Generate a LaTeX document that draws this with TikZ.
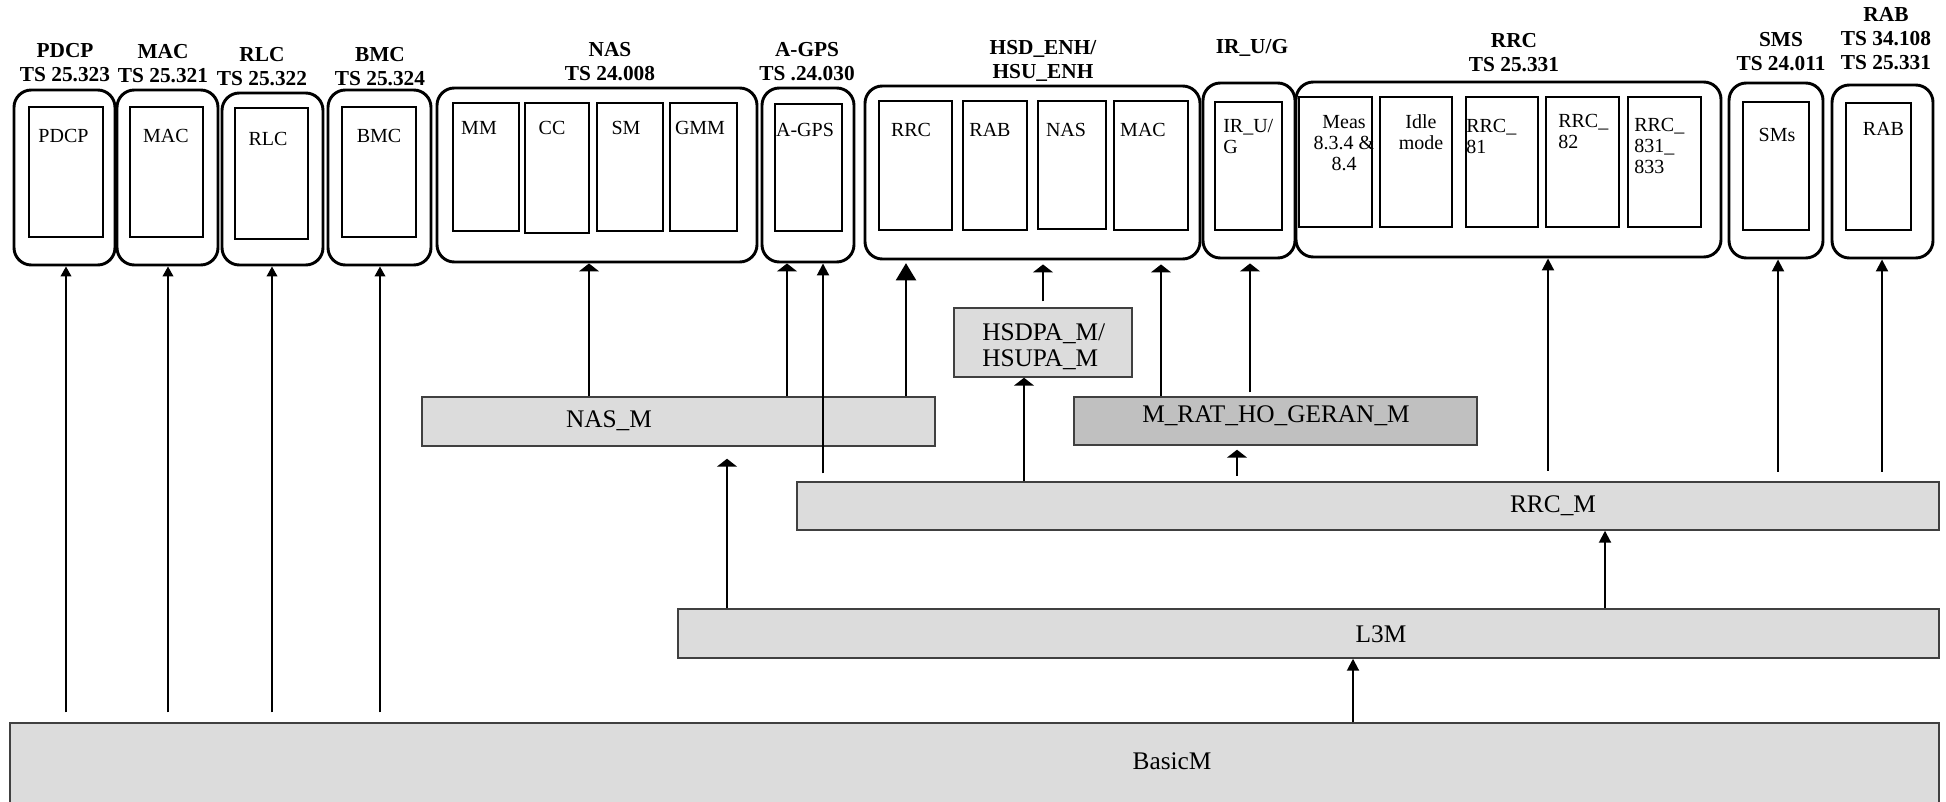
\documentclass[tikz,border=0pt]{standalone}
\usepackage{fontspec}
\setmainfont{Liberation Serif}
\usetikzlibrary{arrows.meta}
\definecolor{boxlight}{RGB}{220,220,220}
\definecolor{boxdark}{RGB}{192,192,192}
\definecolor{boxline}{RGB}{64,64,64}
\newcommand\mbx[6]{%
  \pgfmathsetmacro\bxcx{(#3+#5)/2}%
  \pgfmathsetmacro\bxcy{(#4+#6)/2}%
  \pgfmathsetmacro\bxw{(#5-#3)*0.75}%
  \pgfmathsetmacro\bxh{(#6-#4)*0.75}%
  \node[#1, minimum width=\bxw pt, minimum height=\bxh pt] (#2) at (\bxcx,\bxcy) {};}
\newcommand\mlines[2]{\begin{tabular}[t]{@{}#1@{}}#2\end{tabular}}
\begin{document}
\begin{tikzpicture}[x=0.75pt,y=-0.75pt,
  outerbox/.style={draw, line width=2.2pt, rounded corners=13pt, inner sep=0pt},
  innerbox/.style={draw, line width=1pt, inner sep=0pt},
  modbox/.style={draw=boxline, fill=boxlight, line width=1.1pt, inner sep=0pt},
  modboxdark/.style={modbox, fill=boxdark},
  ttl/.style={font=\bfseries\fontsize{16}{18}\selectfont, inner sep=0pt, anchor=base},
  itxt/.style={font=\fontsize{15}{15.75}\selectfont, inner sep=0pt, anchor=base},
  mtxt/.style={font=\fontsize{19}{20.25}\selectfont, inner sep=0pt, anchor=base},
  thinarr/.style={line width=1.3pt, -{Triangle[width=8pt,length=7.5pt]}},
  midarr/.style={line width=1.5pt, -{Triangle[width=9pt,length=9pt]}},
  thickarr/.style={line width=2.1pt, -{Triangle[width=15pt,length=6pt]}},
  bigarr/.style={line width=2.1pt, -{Triangle[width=15pt,length=13pt]}},
]
\useasboundingbox (0,0) rectangle (1946,802);
\clip (0,0) rectangle (1946,802);

% ---------- titles ----------
\node[ttl] (tPDCP) at (65,58) {\mlines{c}{PDCP\\TS 25.323}};
\node[ttl] (tMAC) at (163,59) {\mlines{c}{MAC\\TS 25.321}};
\node[ttl] (tRLC) at (262,62) {\mlines{c}{RLC\\TS 25.322}};
\node[ttl] (tBMC) at (380,62) {\mlines{c}{BMC\\TS 25.324}};
\node[ttl] (tNAS) at (610,57) {\mlines{c}{NAS\\TS 24.008}};
\node[ttl] (tAGPS) at (807,57) {\mlines{c}{A-GPS\\TS .24.030}};
\node[ttl] (tHSD) at (1043,55) {\mlines{c}{HSD\_ENH/\\HSU\_ENH}};
\node[ttl] (tIR) at (1252,54) {IR\_U/G};
\node[ttl] (tRRC) at (1514,48) {\mlines{c}{RRC\\TS 25.331}};
\node[ttl] (tSMS) at (1781,47) {\mlines{c}{SMS\\TS 24.011}};
\node[ttl] (tRAB) at (1886,22) {\mlines{c}{RAB\\TS 34.108\\TS 25.331}};

% ---------- outer rounded boxes ----------
\mbx{outerbox}{pdcpO}{14}{90}{115}{265}
\mbx{outerbox}{macO}{117}{90}{218}{265}
\mbx{outerbox}{rlcO}{222}{93}{323}{265}
\mbx{outerbox}{bmcO}{328}{90}{431}{265}
\mbx{outerbox}{nasO}{437}{88}{757}{262}
\mbx{outerbox}{agpsO}{762}{88}{854}{262}
\mbx{outerbox}{hsdO}{865}{86}{1200}{259}
\mbx{outerbox}{irO}{1203}{83}{1295}{258}
\mbx{outerbox}{rrcO}{1296}{82}{1721}{257}
\mbx{outerbox}{smsO}{1729}{83}{1823}{258}
\mbx{outerbox}{rabO}{1832}{85}{1933}{258}

% ---------- inner boxes ----------
\mbx{innerbox}{pdcpI}{29}{107}{103}{237}
\mbx{innerbox}{macI}{130}{107}{203}{237}
\mbx{innerbox}{rlcI}{235}{108}{308}{239}
\mbx{innerbox}{bmcI}{342}{107}{416}{237}
\mbx{innerbox}{mmI}{453}{103}{519}{231}
\mbx{innerbox}{ccI}{525}{103}{589}{233}
\mbx{innerbox}{smI}{597}{103}{663}{231}
\mbx{innerbox}{gmmI}{670}{103}{737}{231}
\mbx{innerbox}{agpsI}{775}{104}{842}{231}
\mbx{innerbox}{hrrcI}{879}{101}{952}{230}
\mbx{innerbox}{hrabI}{963}{101}{1027}{230}
\mbx{innerbox}{hnasI}{1038}{101}{1106}{229}
\mbx{innerbox}{hmacI}{1114}{101}{1188}{230}
\mbx{innerbox}{irI}{1215}{102}{1282}{230}
\mbx{innerbox}{measI}{1299}{97}{1372}{227}
\mbx{innerbox}{idleI}{1380}{97}{1452}{227}
\mbx{innerbox}{r81I}{1466}{97}{1538}{227}
\mbx{innerbox}{r82I}{1546}{97}{1619}{227}
\mbx{innerbox}{r831I}{1628}{97}{1701}{227}
\mbx{innerbox}{smsI}{1743}{102}{1809}{230}
\mbx{innerbox}{rabI}{1846}{103}{1911}{230}

% ---------- inner texts ----------
\node[itxt] (lPDCP) at (63.5,143) {PDCP};
\node[itxt] (lMAC) at (166,143) {MAC};
\node[itxt] (lRLC) at (268,146) {RLC};
\node[itxt] (lBMC) at (379,143) {BMC};
\node[itxt] (lMM) at (479,135) {MM};
\node[itxt] (lCC) at (552,135) {CC};
\node[itxt] (lSM) at (626,135) {SM};
\node[itxt] (lGMM) at (700,135) {GMM};
\node[itxt] (lAGPS) at (805,137) {A-GPS};
\node[itxt] (lhRRC) at (911,137) {RRC};
\node[itxt] (lhRAB) at (990,137) {RAB};
\node[itxt] (lhNAS) at (1066,137) {NAS};
\node[itxt] (lhMAC) at (1143,137) {MAC};
\node[itxt, anchor=base west] (lIR) at (1223,133) {\mlines{l}{IR\_U/\\G}};
\node[itxt] (lMeas) at (1344,129) {\mlines{c}{Meas\\8.3.4 \&\\8.4}};
\node[itxt] (lIdle) at (1421,129) {\mlines{c}{Idle\\mode}};
\node[itxt, anchor=base west] (l81) at (1466,133) {\mlines{l}{RRC\_\\81}};
\node[itxt, anchor=base west] (l82) at (1558,128) {\mlines{l}{RRC\_\\82}};
\node[itxt, anchor=base west] (l831) at (1634,132) {\mlines{l}{RRC\_\\831\_\\833}};
\node[itxt] (lSMs) at (1777,142) {SMs};
\node[itxt] (lRAB) at (1883.5,136) {RAB};

% ---------- module boxes ----------
\mbx{modbox}{nasM}{422}{397}{935}{446}
\mbx{modbox}{hsdpaM}{954}{308}{1132}{377}
\mbx{modboxdark}{mratM}{1074}{397}{1477}{445}
\mbx{modbox}{rrcM}{797}{482}{1939}{530}
\mbx{modbox}{l3M}{678}{609}{1939}{658}
\mbx{modbox}{basicM}{10}{723}{1939}{815}

\node[mtxt] (xNASM) at (609,427) {NAS\_M};
\node[mtxt, anchor=base west] (xHSDPA) at (982,340) {\mlines{l}{HSDPA\_M/\\HSUPA\_M}};
\node[mtxt] (xMRAT) at (1276,422) {M\_RAT\_HO\_GERAN\_M};
\node[mtxt] (xRRCM) at (1553,512) {RRC\_M};
\node[mtxt] (xL3M) at (1381,642) {L3M};
\node[mtxt] (xBasic) at (1172,769) {BasicM};

% ---------- connector x positions ----------
\coordinate (k1) at (66,0);
\coordinate (k2) at (168,0);
\coordinate (k3) at (272,0);
\coordinate (k4) at (380,0);
\coordinate (k5) at (1353,0);
\coordinate (k6) at (1605,0);
\coordinate (k7) at (727,0);
\coordinate (k8) at (589,0);
\coordinate (k9) at (787,0);
\coordinate (k10) at (823,0);
\coordinate (k11) at (906,0);
\coordinate (k12) at (1043,0);
\coordinate (k13) at (1161,0);
\coordinate (k14) at (1250,0);
\coordinate (k15) at (1024,0);
\coordinate (k16) at (1237,0);
\coordinate (k17) at (1548,0);
\coordinate (k18) at (1778,0);
\coordinate (k19) at (1882,0);

% ---------- connectors ----------
\draw[thinarr, shorten <=7.5pt] (basicM.north -| k1) -- (pdcpO.south -| k1);
\draw[thinarr, shorten <=7.5pt] (basicM.north -| k2) -- (macO.south -| k2);
\draw[thinarr, shorten <=7.5pt] (basicM.north -| k3) -- (rlcO.south -| k3);
\draw[thinarr, shorten <=7.5pt] (basicM.north -| k4) -- (bmcO.south -| k4);
\draw[midarr] (basicM.north -| k5) -- (l3M.south -| k5);
\draw[midarr] (l3M.north -| k6) -- (rrcM.south -| k6);
\draw[thickarr, shorten >=9pt] (l3M.north -| k7) -- (nasM.south -| k7);
\draw[thickarr] (nasM.north -| k8) -- (nasO.south -| k8);
\draw[thickarr] (nasM.north -| k9) -- (agpsO.south -| k9);
\draw[midarr, shorten <=6pt] (rrcM.north -| k10) -- (agpsO.south -| k10);
\draw[bigarr, shorten >=2pt] (nasM.north -| k11) -- (hsdO.south -| k11);
\draw[thickarr, shorten <=4.5pt, shorten >=3pt] (hsdpaM.north -| k12) -- (hsdO.south -| k12);
\draw[thickarr, shorten >=3pt] (mratM.north -| k13) -- (hsdO.south -| k13);
\draw[thickarr, shorten <=3pt, shorten >=3pt] (mratM.north -| k14) -- (irO.south -| k14);
\draw[thickarr] (rrcM.north -| k15) -- (hsdpaM.south -| k15);
\draw[thickarr, shorten <=4pt, shorten >=3pt] (rrcM.north -| k16) -- (mratM.south -| k16);
\draw[midarr, shorten <=8pt] (rrcM.north -| k17) -- (rrcO.south -| k17);
\draw[midarr, shorten <=7pt] (rrcM.north -| k18) -- (smsO.south -| k18);
\draw[midarr, shorten <=7pt] (rrcM.north -| k19) -- (rabO.south -| k19);
\end{tikzpicture}
\end{document}
